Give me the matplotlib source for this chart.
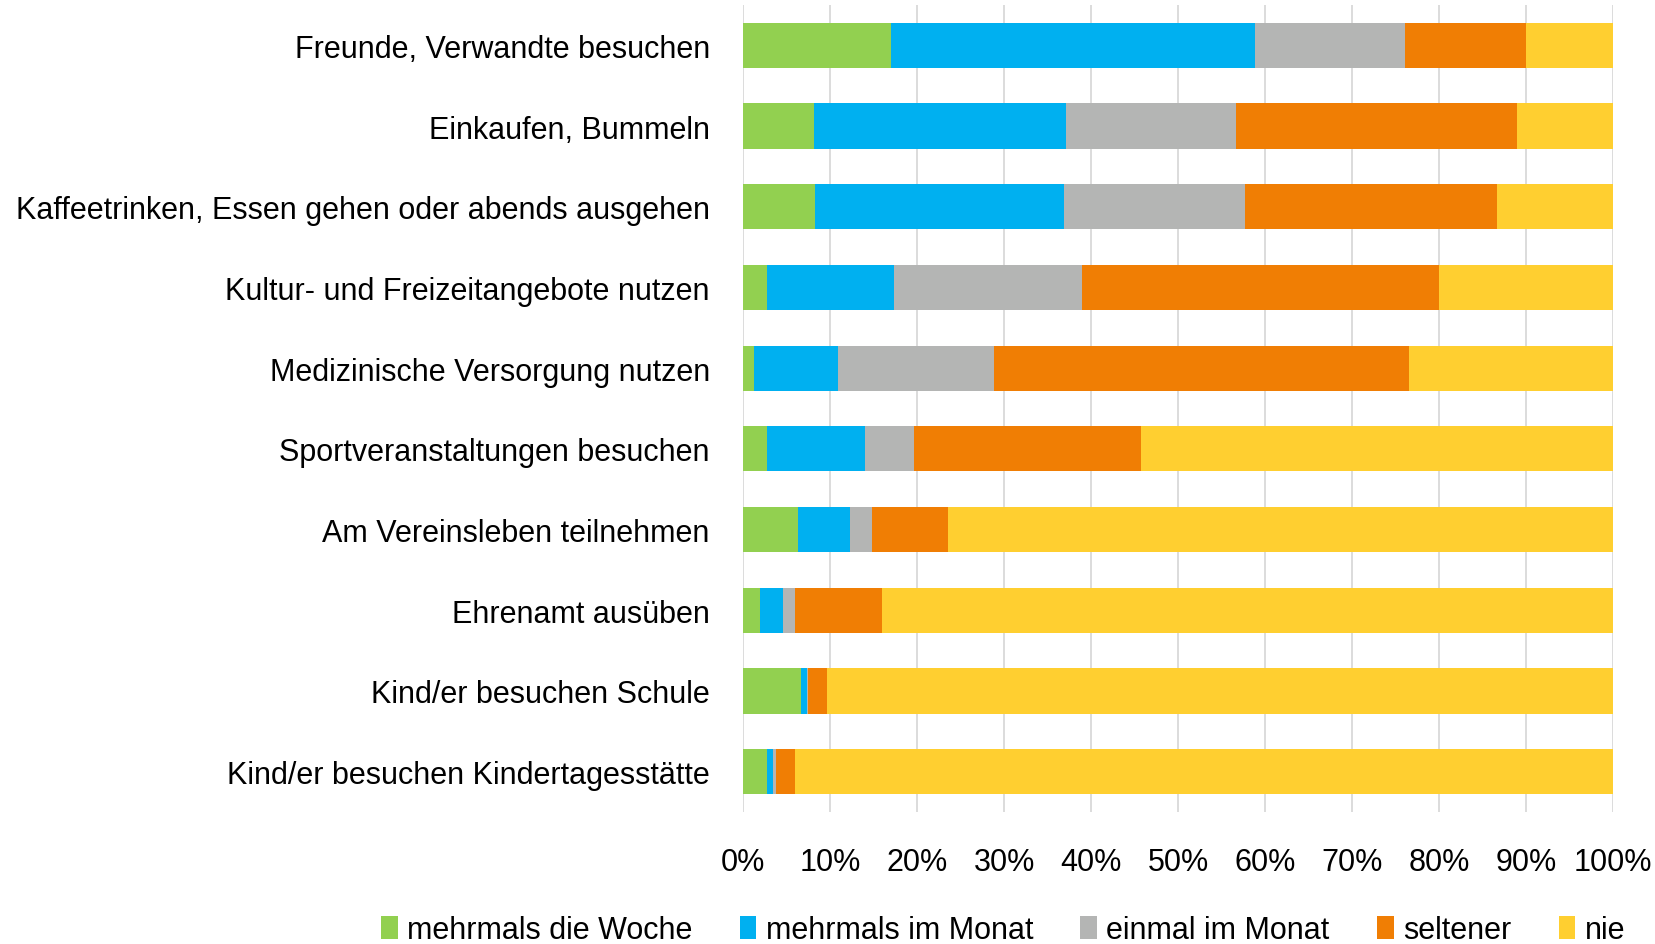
import numpy as np
import matplotlib
matplotlib.use("Agg")
import matplotlib.pyplot as plt
import matplotlib.ticker as mticker

plt.rcParams['font.family'] = ['Liberation Sans', 'DejaVu Sans']

# Daten (Anteile in %)
kategorien = ["Freunde, Verwandte besuchen",
              "Einkaufen, Bummeln",
              "Kaffeetrinken, Essen gehen oder abends ausgehen",
              "Kultur- und Freizeitangebote nutzen",
              "Medizinische Versorgung nutzen",
              "Sportveranstaltungen besuchen",
              "Am Vereinsleben teilnehmen",
              "Ehrenamt ausüben",
              "Kind/er besuchen Schule",
              "Kind/er besuchen Kindertagesstätte"]
serien = ["mehrmals die Woche", "mehrmals im Monat", "einmal im Monat", "seltener", "nie"]
woche = [17.0, 8.2, 8.3, 2.7, 1.2, 2.7, 6.3, 2.0, 6.6, 2.8]
monat = [41.8, 28.9, 28.6, 14.7, 9.7, 11.3, 6.0, 2.6, 0.8, 0.6]
einmal = [17.3, 19.6, 20.8, 21.6, 17.9, 5.7, 2.5, 1.4, 0.1, 0.4]
seltener = [13.9, 32.3, 29.0, 41.0, 47.7, 26.0, 8.7, 10.0, 2.1, 2.2]
nie = [10.0, 11.0, 13.3, 20.0, 23.5, 54.3, 76.5, 84.0, 90.4, 94.0]
farben = ['#92D050', '#00B0F0', '#B4B5B4', '#F07E04', '#FFCF30']

werte = np.array([woche, monat, einmal, seltener, nie]) / 100.0
fs = 22

fig = plt.figure(figsize=(16.55, 9.45), dpi=100)
ax = fig.add_axes([0.449, 0.1397, 0.5256, 0.854])

y = np.arange(len(kategorien))
links = np.zeros(len(kategorien))
for i, name in enumerate(serien):
    ax.barh(y, werte[i], left=links, height=0.56, color=farben[i],
            label=name, linewidth=0, zorder=3)
    links += werte[i]

ax.set_xlim(0, 1)
ax.set_ylim(len(kategorien) - 0.5, -0.5)
ax.set_xticks(np.arange(0, 1.01, 0.1))
ax.xaxis.set_major_formatter(mticker.PercentFormatter(1.0, decimals=0))
ax.set_yticks(y)
ax.set_yticklabels(kategorien)
ax.tick_params(axis='both', length=0, labelsize=fs)
ax.tick_params(axis='y', pad=24)
ax.tick_params(axis='x', pad=25)
ax.grid(axis='x', color='#D9D9D9', linewidth=1.3, zorder=0)
for s in ax.spines.values():
    s.set_visible(False)

fig.legend(loc='center', bbox_to_anchor=(0.606, 0.015), ncol=5, frameon=False,
           fontsize=fs, handlelength=0.55, handleheight=0.8, handletextpad=0.3,
           columnspacing=1.55)

fig.savefig("out.png", dpi=100)
